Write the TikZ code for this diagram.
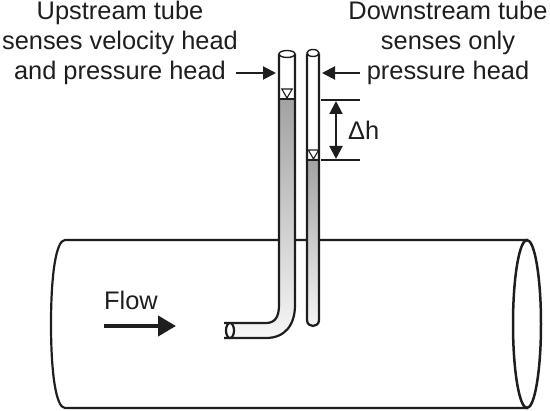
\documentclass[tikz,border=0pt]{standalone}
\usepackage{fontspec}
\setmainfont{Liberation Sans}
\usetikzlibrary{arrows.meta, positioning, calc, shapes.geometric}
\definecolor{lineBlack}{HTML}{1E1E1E}
\definecolor{fluidDark}{HTML}{A2A2A2}
\definecolor{fluidLight}{HTML}{F6F6F6}
\begin{document}
\begin{tikzpicture}[x=1pt, y=-1pt,
  caption/.style={font=\fontsize{25.4pt}{30pt}\selectfont, align=center, text=lineBlack, inner sep=0pt},
  wall/.style={draw=lineBlack, line width=2.2pt},
  pointer/.style={-{Stealth[length=13pt,width=13pt,inset=0pt]}, line width=2pt, lineBlack},
  level/.style={draw=lineBlack, line width=2pt},
  meniscus/.style={regular polygon, regular polygon sides=3, shape border rotate=180, draw=lineBlack,
                   line width=1.1pt, fill=white, inner sep=0pt, minimum size=12pt}]
  \useasboundingbox (0,0) rectangle (550,411);
  % pipe
  \draw[wall] (527,240) -- (65,240) .. controls (56,240) and (51,275) .. (51,324)
    .. controls (51,373) and (56,408) .. (65,408) -- (527,408);
  \draw[wall, line width=2.5pt] (527,324) ellipse (14 and 84);
  % upstream tube
  \fill[white] (279,54) rectangle (295,99);
  \shade[top color=fluidDark, bottom color=fluidLight]
    (279,99) -- (279,305) .. controls (279,317) and (275,323) .. (266,323)
    -- (230,323) -- (230,338) -- (266,338) .. controls (285,338) and (295,325) .. (295,305)
    -- (295,99) -- cycle;
  \draw[wall] (279,54) -- (279,305) .. controls (279,317) and (275,323) .. (266,323) -- (224,323);
  \draw[wall] (295,54) -- (295,305) .. controls (295,325) and (285,338) .. (266,338) -- (224,338);
  \draw[wall, line width=1.4pt] (287,54) ellipse (8 and 3.5);
  \draw[wall, fill=white] (230,330.5) ellipse (4 and 7.5);
  % downstream tube
  \fill[white] (307,54) rectangle (319,159);
  \shade[top color=fluidDark, bottom color=fluidLight]
    (307,159) -- (307,320) .. controls (307,328) and (319,328) .. (319,320) -- (319,159) -- cycle;
  \draw[wall] (307,54) -- (307,320) .. controls (307,328) and (319,328) .. (319,320) -- (319,54);
  \draw[wall, line width=1.4pt] (313,53) ellipse (6 and 3.5);
  % fluid levels
  \draw[level] (279,99) -- (295,99);
  \draw[level] (307,160) -- (319,160);
  \draw[level] (321,100) coordinate (topL) -- (360,100);
  \draw[level] (321,160) coordinate (botL) -- (360,160);
  \node[meniscus] (markU) at (287,92) {};
  \node[meniscus] (markD) at (313.5,153) {};
  \coordinate (hTop) at (336,101);
  \coordinate (hBot) at (336,159);
  \draw[{Stealth[length=13pt,width=13pt,inset=0pt]}-{Stealth[length=13pt,width=13pt,inset=0pt]}, line width=2pt, lineBlack] (hTop) -- (hBot);
  % labels
  \node[caption] (upText) at (120,43) {Upstream tube\\senses velocity head\\and pressure head};
  \node[caption] (downText) at (448,43) {Downstream tube\\senses only\\pressure head};
  \node[caption, anchor=west] (dh) at (348,130) {Δh};
  \node[caption, anchor=west] (flowText) at (104,300) {Flow};
  % pointers
  \coordinate (upFrom) at (236,73);
  \coordinate (upTube) at (276,73);
  \coordinate (downFrom) at (360,73);
  \coordinate (downTube) at (322,73);
  \coordinate (flowStart) at (104,326);
  \coordinate (flowEnd) at (176,326);
  \draw[pointer] (upFrom) -- (upTube);
  \draw[pointer] (downFrom) -- (downTube);
  \draw[-{Stealth[length=18pt,width=20pt,inset=0pt]}, line width=4pt, lineBlack] (flowStart) -- (flowEnd);
\end{tikzpicture}
\end{document}
